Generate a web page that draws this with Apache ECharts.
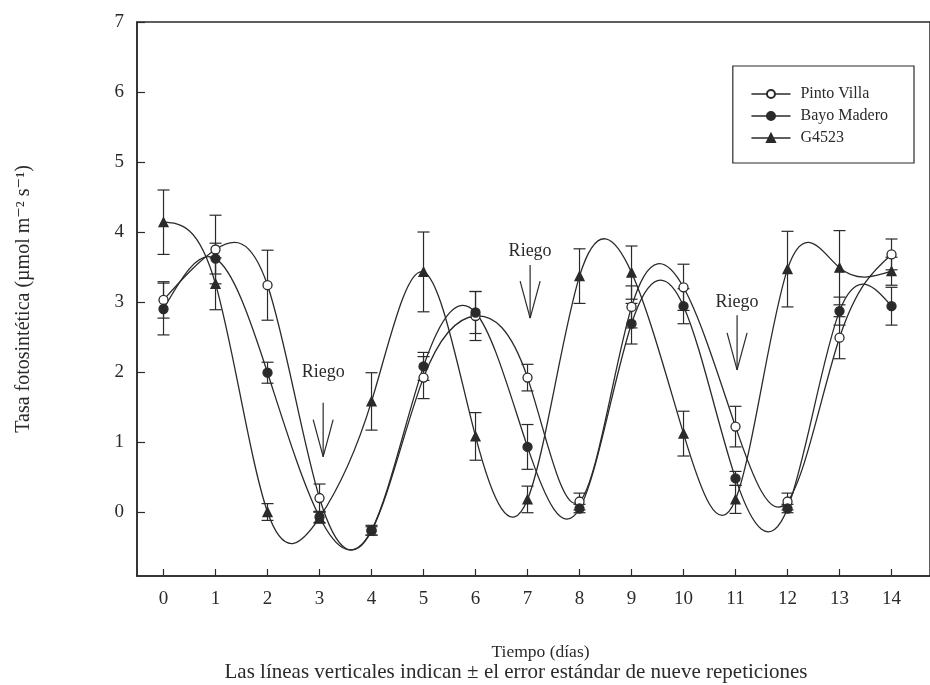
<!DOCTYPE html>
<html>
<head>
<meta charset="utf-8">
<script src="https://cdn.jsdelivr.net/npm/echarts@6/dist/echarts.min.js"></script>
<style>
html,body{margin:0;padding:0;background:#fff;}
#c{width:930px;height:685px;}
</style>
</head>
<body>
<div id="c"></div>
<script>
// ---- data ----
const days = [0,1,2,3,4,5,6,7,8,9,10,11,12,13,14];
const xTicks = [0,1,2,3,4,5,6,7,8,9,10,11,12,13,14];
const yTicks = [0,1,2,3,4,5,6,7];
const pintoVilla    = [3.03, 3.75, 3.24, 0.20, -0.27, 1.92, 2.80, 1.92, 0.15, 2.93, 3.21, 1.22, 0.15, 2.49, 3.68];
const pintoVillaErr = [0.26, 0.49, 0.50, 0.20, 0.06, 0.30, 0.35, 0.19, 0.12, 0.30, 0.33, 0.29, 0.12, 0.30, 0.22];
const bayoMadero    = [2.90, 3.62, 1.99, -0.07, -0.26, 2.08, 2.85, 0.93, 0.05, 2.69, 2.94, 0.48, 0.05, 2.87, 2.94];
const bayoMaderoErr = [0.37, 0.22, 0.15, 0.08, 0.07, 0.20, 0.30, 0.32, 0.06, 0.29, 0.25, 0.10, 0.06, 0.20, 0.27];
const g4523         = [4.14, 3.26, 0.00, -0.08, 1.58, 3.43, 1.08, 0.18, 3.37, 3.42, 1.12, 0.18, 3.47, 3.49, 3.44];
const g4523Err      = [0.46, 0.37, 0.12, 0.08, 0.41, 0.57, 0.34, 0.19, 0.39, 0.38, 0.32, 0.20, 0.54, 0.53, 0.20];
const riegoDays   = [3.07, 7.05, 11.03];
const riegoLabelY = [1.99, 3.73, 3.00];
const riegoTopY   = [1.56, 3.53, 2.81];
const riegoTipY   = [0.79, 2.77, 2.03];

const INK = '#2a2a2a';
const FONT = '"Liberation Serif", "DejaVu Serif", serif';

function pairs(arr){ return days.map((d,i)=>[d, arr[i]]); }
function errData(vals, errs){ return days.map((d,i)=>[d, vals[i]-errs[i], vals[i]+errs[i]]); }

// Natural cubic spline tangents (curve drawn as exact cubic Bezier segments through the data points)
function splineSegments(xs, ys){
  const n = xs.length;
  const h = []; for (let i=0;i<n-1;i++) h.push(xs[i+1]-xs[i]);
  const M = new Array(n).fill(0);
  if (n > 2){
    const a=[], b=[], c=[], d=[];
    for (let i=1;i<n-1;i++){
      a.push(h[i-1]); b.push(2*(h[i-1]+h[i])); c.push(h[i]);
      d.push(6*((ys[i+1]-ys[i])/h[i] - (ys[i]-ys[i-1])/h[i-1]));
    }
    const m = b.length;
    for (let i=1;i<m;i++){ const w = a[i]/b[i-1]; b[i]-=w*c[i-1]; d[i]-=w*d[i-1]; }
    const sol = new Array(m);
    sol[m-1] = d[m-1]/b[m-1];
    for (let i=m-2;i>=0;i--) sol[i] = (d[i]-c[i]*sol[i+1])/b[i];
    for (let i=0;i<m;i++) M[i+1] = sol[i];
  }
  const segs = [];
  for (let i=0;i<n-1;i++){
    const hi = h[i], s = (ys[i+1]-ys[i])/hi;
    const m0 = s - hi*(2*M[i]+M[i+1])/6;
    const m1 = s + hi*(M[i]+2*M[i+1])/6;
    segs.push([xs[i], ys[i], xs[i+1], ys[i+1], xs[i]+hi/3, ys[i]+m0*hi/3, xs[i+1]-hi/3, ys[i+1]-m1*hi/3]);
  }
  return segs;
}

function curveSeries(name, vals){
  return {
    type:'custom', name: name + ' curve', silent:true, z:4,
    data: splineSegments(days, vals),
    renderItem: function(params, api){
      const p0 = api.coord([api.value(0), api.value(1)]);
      const p3 = api.coord([api.value(2), api.value(3)]);
      const c1 = api.coord([api.value(4), api.value(5)]);
      const c2 = api.coord([api.value(6), api.value(7)]);
      return {type:'bezierCurve',
        shape:{x1:p0[0], y1:p0[1], x2:p3[0], y2:p3[1], cpx1:c1[0], cpy1:c1[1], cpx2:c2[0], cpy2:c2[1]},
        style:{stroke:INK, lineWidth:1.3, fill:null}};
    }
  };
}

function errSeries(name, vals, errs){
  return {
    type: 'custom', name: name + ' err', silent: true, z: 3,
    data: errData(vals, errs),
    renderItem: function(params, api){
      const x = api.value(0);
      const lo = api.coord([x, api.value(1)]);
      const hi = api.coord([x, api.value(2)]);
      const w = 6;
      const st = {stroke: INK, lineWidth: 1.2};
      return {type:'group', children:[
        {type:'line', shape:{x1:lo[0], y1:lo[1], x2:hi[0], y2:hi[1]}, style:st},
        {type:'line', shape:{x1:lo[0]-w, y1:lo[1], x2:lo[0]+w, y2:lo[1]}, style:st},
        {type:'line', shape:{x1:hi[0]-w, y1:hi[1], x2:hi[0]+w, y2:hi[1]}, style:st}
      ]};
    }
  };
}

function pointSeries(name, vals, symbol, fill, size){
  return {
    type:'line', name:name, data:pairs(vals),
    symbol:symbol, symbolSize:size, showAllSymbol:true, z:5,
    lineStyle:{color:INK, width:1.3, opacity:0},
    itemStyle:{color:fill, borderColor:INK, borderWidth:1.3},
    emphasis:{disabled:true}
  };
}

// Riego annotations
const riegoSeries = {
  type:'custom', name:'riego', silent:true, z:6,
  data: riegoDays.map((d,i)=>[d, riegoLabelY[i], riegoTopY[i], riegoTipY[i]]),
  renderItem: function(params, api){
    const x = api.value(0);
    const lab = api.coord([x, api.value(1)]);
    const top = api.coord([x, api.value(2)]);
    const tip = api.coord([x, api.value(3)]);
    const st = {stroke: INK, lineWidth: 1.2};
    return {type:'group', children:[
      {type:'text', style:{text:'Riego', x:lab[0], y:lab[1], align:'center', verticalAlign:'middle', font:'18px ' + FONT, fill:INK}},
      {type:'line', shape:{x1:top[0], y1:top[1], x2:tip[0], y2:tip[1]}, style:st},
      {type:'line', shape:{x1:tip[0]-10, y1:tip[1]-37, x2:tip[0], y2:tip[1]}, style:st},
      {type:'line', shape:{x1:tip[0]+10, y1:tip[1]-37, x2:tip[0], y2:tip[1]}, style:st}
    ]};
  }
};

const chart = echarts.init(document.getElementById('c'), null, {renderer:'canvas'});
chart.setOption({
  backgroundColor:'#ffffff',
  animation:false,
  textStyle:{fontFamily:FONT, color:INK},
  grid:{left:137, top:22, right:-6, bottom:109, show:true, borderColor:INK, borderWidth:1.5, backgroundColor:'transparent'},
  graphic:[{
    type:'text', x:516, y:672, silent:true,
    style:{text:'Las líneas verticales indican ± el error estándar de nueve repeticiones',
      font:'21px ' + FONT, fill:INK, align:'center', verticalAlign:'middle'}
  }],
  legend:{
    right:16, top:66, orient:'vertical', itemGap:6,
    padding:[20,26,17,18],
    borderColor:INK, borderWidth:1.2, backgroundColor:'#fff',
    itemWidth:39, itemHeight:10,
    lineStyle:{color:INK, width:1.3, opacity:1},
    textStyle:{fontFamily:FONT, fontSize:16, color:INK, padding:[0,0,0,5]},
    data:['Pinto Villa','Bayo Madero','G4523']
  },
  xAxis:{
    type:'value', min:-0.51, max:14.74,
    name:'Tiempo (días)', nameLocation:'middle', nameGap:67,
    nameTextStyle:{fontFamily:FONT, fontSize:17.5, color:INK, padding:[0,0,0,14]},
    axisLine:{show:true, onZero:false, lineStyle:{color:INK, width:1.5}},
    axisTick:{show:true, inside:true, length:7, lineStyle:{color:INK, width:1.2}, customValues:xTicks},
    axisLabel:{show:true, margin:14, fontFamily:FONT, fontSize:19, color:INK, customValues:xTicks},
    splitLine:{show:false}
  },
  yAxis:{
    type:'value', min:-0.914, max:7,
    name:'Tasa fotosintética (µmol m⁻² s⁻¹)', nameLocation:'middle', nameGap:103,
    nameTextStyle:{fontFamily:FONT, fontSize:20, color:INK},
    axisLine:{show:true, onZero:false, lineStyle:{color:INK, width:1.5}},
    axisTick:{show:true, inside:true, length:8, lineStyle:{color:INK, width:1.2}, customValues:yTicks},
    axisLabel:{show:true, margin:13, fontFamily:FONT, fontSize:19, color:INK, customValues:yTicks},
    splitLine:{show:false}
  },
  series:[
    curveSeries('Pinto Villa', pintoVilla),
    curveSeries('Bayo Madero', bayoMadero),
    curveSeries('G4523', g4523),
    errSeries('Pinto Villa', pintoVilla, pintoVillaErr),
    errSeries('Bayo Madero', bayoMadero, bayoMaderoErr),
    errSeries('G4523', g4523, g4523Err),
    pointSeries('Pinto Villa', pintoVilla, 'circle', '#ffffff', 9),
    pointSeries('Bayo Madero', bayoMadero, 'circle', INK, 9),
    pointSeries('G4523', g4523, 'triangle', INK, 9),
    riegoSeries
  ]
});
</script>
</body>
</html>
